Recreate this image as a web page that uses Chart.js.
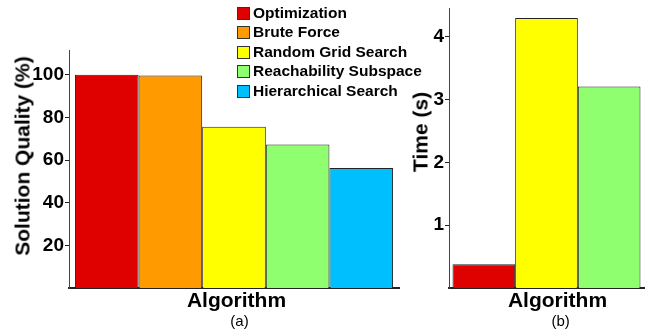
<!DOCTYPE html>
<html>
<head>
<meta charset="utf-8">
<script src="https://cdn.jsdelivr.net/npm/chart.js@4.4.1/dist/chart.umd.min.js"></script>
<style>
  html, body { margin: 0; padding: 0; background: #fff; }
  body { width: 657px; height: 334px; position: relative; overflow: hidden;
         font-family: "Liberation Sans", Arial, sans-serif; color: #000; }
  canvas { position: absolute; top: 0; }
  #leftChart { left: 0; }
  #rightChart { left: 400px; }
  .lbl { position: absolute; white-space: nowrap; line-height: 1; z-index: 2; }
  .bold { font-weight: bold; }
  #legend { position: absolute; left: 237px; top: 7px; z-index: 2; }
  .row { position: absolute; left: 0; height: 13px; white-space: nowrap; }
  .box { position: absolute; left: 0; top: 0; width: 13px; height: 13px;
         box-sizing: border-box; border: 1px solid #333; }
  .txt { position: absolute; left: 16px; top: -2px; font-size: 15.5px; font-weight: bold; line-height: 15px; }
</style>
</head>
<body>
<canvas id="leftChart" width="420" height="334"></canvas>
<canvas id="rightChart" width="257" height="334"></canvas>
<div id="legend"></div>

<script>
// data
const algorithms = ["Optimization", "Brute Force", "Random Grid Search", "Reachability Subspace", "Hierarchical Search"];
const algoColors = ["#df0000", "#ff9a00", "#ffff00", "#8fff6f", "#00bfff"];
const qualityValues = [100, 99.6, 75.6, 67.3, 56.3];
const qualityTicks = [20, 40, 60, 80, 100];

const timeAlgorithms = ["Optimization", "Random Grid Search", "Reachability Subspace"];
const timeValues = [0.38, 4.30, 3.21];
const timeTicks = [1, 2, 3, 4];

Chart.defaults.font.family = '"Liberation Sans", Arial, sans-serif';
Chart.defaults.color = "#000";

function colorOf(name) {
  return algoColors[algorithms.indexOf(name)];
}

function makeDatasets(names, values) {
  return names.map((name, i) => ({
    label: name,
    data: [values[i]],
    backgroundColor: colorOf(name),
    borderColor: "#222",
    borderWidth: 1,
    categoryPercentage: 0.964,
    barPercentage: 1
  }));
}

function barOptions(yMax, tickValues, yWidth, pad) {
  return {
    responsive: false,
    animation: false,
    layout: { padding: pad },
    plugins: { legend: { display: false }, tooltip: { enabled: false } },
    scales: {
      x: {
        ticks: { display: false },
        grid: { display: false },
        border: { color: "#222", width: 2 },
        afterFit: s => { s.height = 0; }
      },
      y: {
        min: 0,
        max: yMax,
        afterBuildTicks: s => { s.ticks = tickValues.map(v => ({ value: v })); },
        afterFit: s => { s.width = yWidth; s.paddingTop = 0; s.paddingBottom = 0; },
        ticks: {
          font: { size: 19, weight: "bold" },
          color: "#000",
          padding: 1
        },
        grid: { drawOnChartArea: false, drawTicks: true, tickLength: 4, color: "#222" },
        border: { color: "#444", width: 1 }
      }
    }
  };
}

new Chart(document.getElementById("leftChart"), {
  type: "bar",
  data: { labels: ["Algorithm"], datasets: makeDatasets(algorithms, qualityValues) },
  options: barOptions(111.6, qualityTicks, 69, { left: 0, top: 50, right: 21, bottom: 46 })
});

new Chart(document.getElementById("rightChart"), {
  type: "bar",
  data: { labels: ["Algorithm"], datasets: makeDatasets(timeAlgorithms, timeValues) },
  options: barOptions(4.46, timeTicks, 49, { left: 0, top: 8, right: 13, bottom: 46 })
});

// legend
const legend = document.getElementById("legend");
algorithms.forEach((name, i) => {
  const row = document.createElement("div");
  row.className = "row";
  row.style.top = (i * 19.4) + "px";
  row.innerHTML = '<span class="box" style="background:' + algoColors[i] + '"></span><span class="txt">' + name + '</span>';
  legend.appendChild(row);
});

// axis titles and panel captions
function addLabel(text, cx, cy, size, bold, rotate) {
  const d = document.createElement("div");
  d.className = "lbl" + (bold ? " bold" : "");
  d.textContent = text;
  d.style.left = cx + "px";
  d.style.top = cy + "px";
  d.style.fontSize = size + "px";
  d.style.transform = "translate(-50%,-50%)" + (rotate ? " rotate(-90deg)" : "");
  document.body.appendChild(d);
}

addLabel("Solution Quality (%)", 22, 156, 21, true, true);
addLabel("Time (s)", 420, 132, 21, true, true);
addLabel("Algorithm", 236.5, 298.7, 21, true, false);
addLabel("Algorithm", 557.5, 298.7, 21, true, false);
addLabel("(a)", 239.5, 319.5, 15, false, false);
addLabel("(b)", 560.7, 319.5, 15, false, false);
</script>
</body>
</html>
